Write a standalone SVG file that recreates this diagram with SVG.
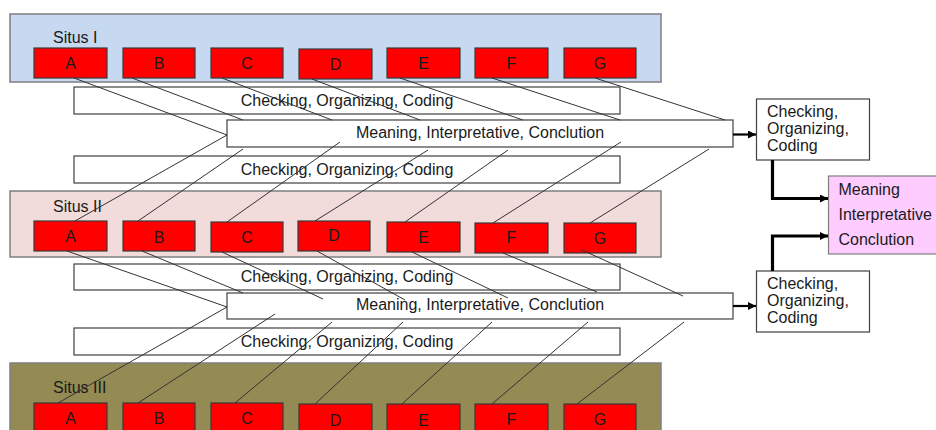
<svg xmlns="http://www.w3.org/2000/svg" width="936" height="430" viewBox="0 0 936 430">
  <style>
    text { font-family: "Liberation Sans", Arial, sans-serif; font-size: 16px; fill: #1a1a1a; }
    .mid { text-anchor: middle; }
    .panel { stroke: #7f7f7f; stroke-width: 1.5; }
    .s1 { fill: #c6d9f1; }
    .s2 { fill: #f2dcdb; }
    .s3 { fill: #948a54; }
    .red { fill: #ff0000; stroke: #3a3a3a; stroke-width: 1.2; }
    .box { fill: #ffffff; stroke: #404040; stroke-width: 1.2; }
    .pink { fill: #ffccff; stroke: #7f7f7f; stroke-width: 1.2; }
    .thin { stroke: #333333; stroke-width: 1; fill: none; }
    .arrow { stroke: #000000; stroke-width: 2.2; fill: none; }
    .thick { stroke: #000000; stroke-width: 3.2; fill: none; }
  </style>
  <defs>
    <marker id="head" viewBox="0 0 10 10" refX="10" refY="5" markerUnits="userSpaceOnUse" markerWidth="9" markerHeight="8" orient="auto">
      <path d="M0,0 L10,5 L0,10 Z" fill="#000000"/>
    </marker>
  </defs>

  <!-- Site panels -->
  <g id="situs-1">
    <rect class="panel s1" x="10" y="14" width="651" height="68"/>
    <text x="53" y="43">Situs I</text>
  </g>
  <g id="situs-2">
    <rect class="panel s2" x="10" y="191" width="651" height="66"/>
    <text x="53" y="212">Situs II</text>
  </g>
  <g id="situs-3">
    <rect class="panel s3" x="10" y="363" width="651" height="80"/>
    <text x="53" y="393">Situs III</text>
  </g>

  <!-- Row 1 items -->
  <g id="s1-a"><rect class="red" x="34" y="48" width="73" height="30"/><text class="mid" x="70.5" y="68.5">A</text></g>
  <g id="s1-b"><rect class="red" x="123" y="48" width="72" height="30"/><text class="mid" x="159" y="68.5">B</text></g>
  <g id="s1-c"><rect class="red" x="211" y="48" width="72" height="30"/><text class="mid" x="247" y="68.5">C</text></g>
  <g id="s1-d"><rect class="red" x="299" y="49" width="73" height="30"/><text class="mid" x="335.5" y="70">D</text></g>
  <g id="s1-e"><rect class="red" x="387" y="48" width="73" height="30"/><text class="mid" x="423.5" y="68.5">E</text></g>
  <g id="s1-f"><rect class="red" x="475" y="48" width="73" height="30"/><text class="mid" x="511.5" y="68.5">F</text></g>
  <g id="s1-g"><rect class="red" x="564" y="48" width="72" height="30"/><text class="mid" x="600" y="68.5">G</text></g>

  <!-- Row 2 items -->
  <g id="s2-a"><rect class="red" x="34" y="221" width="73" height="30"/><text class="mid" x="70.5" y="242">A</text></g>
  <g id="s2-b"><rect class="red" x="123" y="221" width="72" height="30"/><text class="mid" x="159" y="243">B</text></g>
  <g id="s2-c"><rect class="red" x="211" y="222" width="72" height="30"/><text class="mid" x="247" y="243">C</text></g>
  <g id="s2-d"><rect class="red" x="298" y="221" width="72" height="30"/><text class="mid" x="334" y="241">D</text></g>
  <g id="s2-e"><rect class="red" x="387" y="222" width="73" height="30"/><text class="mid" x="423.5" y="243">E</text></g>
  <g id="s2-f"><rect class="red" x="475" y="223" width="73" height="30"/><text class="mid" x="511.5" y="243">F</text></g>
  <g id="s2-g"><rect class="red" x="564" y="223" width="72" height="30"/><text class="mid" x="600" y="243.5">G</text></g>

  <!-- Row 3 items -->
  <g id="s3-a"><rect class="red" x="34" y="403" width="73" height="32"/><text class="mid" x="70.5" y="424">A</text></g>
  <g id="s3-b"><rect class="red" x="123" y="403" width="72" height="32"/><text class="mid" x="159" y="424">B</text></g>
  <g id="s3-c"><rect class="red" x="211" y="403" width="72" height="32"/><text class="mid" x="247" y="424">C</text></g>
  <g id="s3-d"><rect class="red" x="299" y="404" width="73" height="32"/><text class="mid" x="335.5" y="425.5">D</text></g>
  <g id="s3-e"><rect class="red" x="387" y="404" width="73" height="32"/><text class="mid" x="423.5" y="425.5">E</text></g>
  <g id="s3-f"><rect class="red" x="475" y="404" width="73" height="32"/><text class="mid" x="511.5" y="424.5">F</text></g>
  <g id="s3-g"><rect class="red" x="564" y="404" width="72" height="32"/><text class="mid" x="600" y="424.5">G</text></g>

  <!-- Processing bands -->
  <g id="coding-1"><rect class="box" x="74" y="87" width="546" height="27"/><text class="mid" x="347" y="106">Checking, Organizing, Coding</text></g>
  <g id="meaning-1"><rect class="box" x="227" y="120" width="506" height="27"/><text class="mid" x="480" y="138">Meaning, Interpretative, Conclution</text></g>
  <g id="coding-2"><rect class="box" x="74" y="156" width="546" height="27"/><text class="mid" x="347" y="175">Checking, Organizing, Coding</text></g>
  <g id="coding-3"><rect class="box" x="74" y="264" width="546" height="26"/><text class="mid" x="347" y="282">Checking, Organizing, Coding</text></g>
  <g id="meaning-2"><rect class="box" x="227" y="293" width="506" height="26"/><text class="mid" x="480" y="310">Meaning, Interpretative, Conclution</text></g>
  <g id="coding-4"><rect class="box" x="74" y="328" width="546" height="27"/><text class="mid" x="347" y="347">Checking, Organizing, Coding</text></g>

  <!-- Summary boxes -->
  <g id="summary-coding-1">
    <rect class="box" x="756.5" y="99" width="113" height="61"/>
    <text x="767" y="117">Checking,</text>
    <text x="767" y="134">Organizing,</text>
    <text x="767" y="151">Coding</text>
  </g>
  <g id="summary-coding-2">
    <rect class="box" x="756.5" y="271" width="113" height="61"/>
    <text x="767" y="289">Checking,</text>
    <text x="767" y="306">Organizing,</text>
    <text x="767" y="322.5">Coding</text>
  </g>
  <g id="final-meaning">
    <rect class="pink" x="828.5" y="176" width="112" height="78"/>
    <text x="838.5" y="195">Meaning</text>
    <text x="838.5" y="220">Interpretative</text>
    <text x="838.5" y="245">Conclution</text>
  </g>

  <!-- Connectors -->
  <g id="connectors">
    <!-- Situs I to first meaning band -->
    <line class="thin" x1="74" y1="78" x2="227" y2="135"/>
    <line class="thin" x1="132" y1="78" x2="243" y2="120"/>
    <line class="thin" x1="222" y1="78" x2="332" y2="120"/>
    <line class="thin" x1="312" y1="79" x2="420" y2="120"/>
    <line class="thin" x1="400" y1="78" x2="523" y2="120"/>
    <line class="thin" x1="492" y1="78" x2="620" y2="120"/>
    <line class="thin" x1="595" y1="78" x2="725" y2="120"/>
    <!-- first meaning band to Situs II -->
    <line class="thin" x1="227" y1="135" x2="75" y2="221"/>
    <line class="thin" x1="243" y1="149" x2="138" y2="221"/>
    <line class="thin" x1="340" y1="142" x2="227" y2="222"/>
    <line class="thin" x1="428" y1="150" x2="315" y2="221"/>
    <line class="thin" x1="508" y1="150" x2="405" y2="222"/>
    <line class="thin" x1="621" y1="142" x2="493" y2="223"/>
    <line class="thin" x1="709" y1="149" x2="590" y2="223"/>
    <!-- Situs II to second meaning band -->
    <line class="thin" x1="67" y1="251" x2="227" y2="307"/>
    <line class="thin" x1="142" y1="251" x2="243" y2="293"/>
    <line class="thin" x1="222" y1="252" x2="323" y2="299"/>
    <line class="thin" x1="317" y1="251" x2="405" y2="300"/>
    <line class="thin" x1="412" y1="252" x2="508" y2="298"/>
    <line class="thin" x1="503" y1="253" x2="597" y2="292"/>
    <line class="thin" x1="582" y1="250" x2="683" y2="296"/>
    <!-- second meaning band to Situs III -->
    <line class="thin" x1="227" y1="307" x2="58" y2="403"/>
    <line class="thin" x1="275" y1="314" x2="138" y2="403"/>
    <line class="thin" x1="332" y1="322" x2="235" y2="403"/>
    <line class="thin" x1="403" y1="322" x2="315" y2="404"/>
    <line class="thin" x1="492" y1="322" x2="402" y2="404"/>
    <line class="thin" x1="588" y1="322" x2="492" y2="404"/>
    <line class="thin" x1="684" y1="322" x2="577" y2="404"/>
    <!-- bands to summaries -->
    <line class="arrow" x1="733" y1="134.5" x2="756" y2="134.5" marker-end="url(#head)"/>
    <line class="arrow" x1="733" y1="306" x2="756" y2="306" marker-end="url(#head)"/>
    <path class="thick" d="M772.5,160 V198.5 H828" marker-end="url(#head)"/>
    <path class="thick" d="M772.5,271 V236 H828" marker-end="url(#head)"/>
  </g>
</svg>
